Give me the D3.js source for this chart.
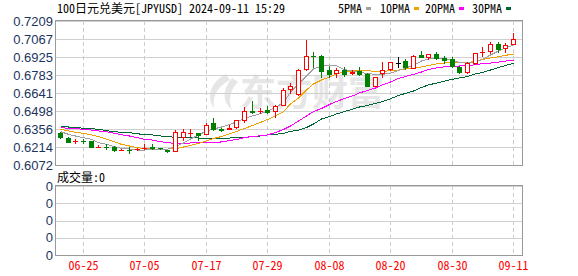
<!DOCTYPE html>
<html>
<head>
<meta charset="utf-8">
<script src="https://cdn.jsdelivr.net/npm/d3@7"></script>
<style>
  body { margin: 0; background: #fff; }
  svg { display: block; }
  .mono { font-family: 'Noto Sans Mono CJK SC', 'Noto Sans CJK SC', monospace; font-size: 12px; }
  .num { font-family: 'Liberation Sans', Arial, sans-serif; font-size: 13px; fill: #1c3560; }
  .datelab { font-family: 'Noto Sans Mono CJK SC', 'Noto Sans CJK SC', monospace; font-size: 12px; fill: #ff0000; }
</style>
</head>
<body>
<svg width="578" height="276"></svg>
<script>
// trading days shown (MM-DD, 2024)
var dates = ["06-20","06-21","06-24","06-25","06-26","06-27","06-28","07-01","07-02","07-03",
  "07-04","07-05","07-08","07-09","07-10","07-11","07-12","07-15","07-16","07-17",
  "07-18","07-19","07-22","07-23","07-24","07-25","07-26","07-29","07-30","07-31",
  "08-01","08-02","08-05","08-06","08-07","08-08","08-09","08-12","08-13","08-14",
  "08-15","08-16","08-19","08-20","08-21","08-22","08-23","08-26","08-27","08-28",
  "08-29","08-30","09-02","09-03","09-04","09-05","09-06","09-09","09-10","09-11"];

var open = [0.6327,0.6288,0.6259,0.6264,0.6259,0.6214,0.6217,0.6217,0.6188,0.6193,
  0.6196,0.6204,0.6212,0.6208,0.6189,0.6185,0.6293,0.6321,0.6322,0.6317,
  0.6401,0.6356,0.6359,0.6370,0.6427,0.6498,0.6498,0.6506,0.6496,0.6548,
  0.6674,0.6633,0.6828,0.6935,0.6933,0.6822,0.6796,0.6822,0.6802,0.6817,
  0.6793,0.6698,0.6796,0.6828,0.6881,0.6896,0.6840,0.6943,0.6922,0.6948,
  0.6917,0.6907,0.6843,0.6804,0.6875,0.6964,0.6972,0.7027,0.6993,0.7025];
var high = [0.6333,0.6291,0.6275,0.6277,0.6262,0.6232,0.6235,0.6220,0.6201,0.6212,
  0.6206,0.6238,0.6240,0.6210,0.6190,0.6348,0.6354,0.6354,0.6325,0.6406,
  0.6441,0.6364,0.6388,0.6427,0.6528,0.6577,0.6520,0.6538,0.6543,0.6682,
  0.6717,0.6828,0.7059,0.6967,0.6937,0.6854,0.6835,0.6843,0.6822,0.6848,
  0.6796,0.6769,0.6883,0.6885,0.6922,0.6907,0.6941,0.6970,0.6948,0.6964,
  0.6933,0.6922,0.6856,0.6888,0.6956,0.7001,0.7046,0.7046,0.7033,0.7112];
var low = [0.6289,0.6254,0.6243,0.6246,0.6214,0.6212,0.6201,0.6183,0.6187,0.6169,
  0.6190,0.6201,0.6201,0.6201,0.6177,0.6183,0.6269,0.6303,0.6269,0.6314,
  0.6348,0.6338,0.6356,0.6367,0.6414,0.6485,0.6485,0.6480,0.6449,0.6546,
  0.6638,0.6625,0.6825,0.6848,0.6769,0.6769,0.6769,0.6775,0.6790,0.6783,
  0.6693,0.6696,0.6769,0.6822,0.6843,0.6828,0.6835,0.6922,0.6907,0.6907,
  0.6880,0.6848,0.6801,0.6796,0.6872,0.6935,0.6954,0.6962,0.6967,0.7025];
var close = [0.6296,0.6256,0.6264,0.6259,0.6217,0.6218,0.6212,0.6190,0.6192,0.6188,
  0.6200,0.6208,0.6206,0.6204,0.6183,0.6335,0.6333,0.6325,0.6307,0.6390,
  0.6354,0.6352,0.6363,0.6425,0.6496,0.6493,0.6502,0.6488,0.6540,0.6662,
  0.6696,0.6820,0.6933,0.6930,0.6817,0.6793,0.6820,0.6793,0.6806,0.6793,
  0.6696,0.6767,0.6822,0.6883,0.6881,0.6843,0.6933,0.6927,0.6946,0.6917,
  0.6903,0.6856,0.6806,0.6875,0.6954,0.6968,0.7027,0.6988,0.7017,0.7069];

var ma5 = [0.6335,0.6314,0.6301,0.6288,0.6275,0.6248,0.6235,0.6217,0.6204,0.6198,
  0.6190,0.6190,0.6196,0.6196,0.6196,0.6217,0.6246,0.6277,0.6309,0.6341,
  0.6356,0.6372,0.6392,0.6412,0.6439,0.6459,0.6479,0.6498,0.6526,0.6566,
  0.6648,0.6712,0.6775,0.6830,0.6854,0.6862,0.6854,0.6826,0.6814,0.6802,
  0.6796,0.6787,0.6787,0.6798,0.6817,0.6838,0.6858,0.6893,0.6909,0.6913,
  0.6909,0.6897,0.6881,0.6877,0.6885,0.6905,0.6941,0.6972,0.6996,0.7020];
var ma10 = [0.6354,0.6341,0.6330,0.6322,0.6309,0.6296,0.6275,0.6256,0.6235,0.6222,
  0.6209,0.6201,0.6198,0.6198,0.6198,0.6201,0.6214,0.6226,0.6242,0.6262,
  0.6281,0.6297,0.6317,0.6337,0.6360,0.6384,0.6408,0.6431,0.6459,0.6494,
  0.6554,0.6601,0.6664,0.6712,0.6743,0.6767,0.6791,0.6806,0.6814,0.6817,
  0.6817,0.6810,0.6810,0.6817,0.6822,0.6830,0.6835,0.6846,0.6858,0.6870,
  0.6877,0.6880,0.6880,0.6880,0.6893,0.6905,0.6917,0.6927,0.6938,0.6948];
var ma20 = [0.6367,0.6362,0.6359,0.6354,0.6348,0.6341,0.6335,0.6322,0.6311,0.6301,
  0.6288,0.6275,0.6269,0.6256,0.6248,0.6243,0.6243,0.6246,0.6248,0.6248,
  0.6250,0.6254,0.6265,0.6273,0.6289,0.6297,0.6303,0.6309,0.6329,0.6352,
  0.6380,0.6419,0.6459,0.6494,0.6518,0.6550,0.6573,0.6597,0.6617,0.6641,
  0.6660,0.6680,0.6704,0.6727,0.6755,0.6771,0.6787,0.6806,0.6826,0.6838,
  0.6848,0.6851,0.6854,0.6856,0.6864,0.6872,0.6877,0.6885,0.6893,0.6901];
var ma30 = [0.6380,0.6372,0.6370,0.6362,0.6359,0.6354,0.6343,0.6335,0.6330,0.6327,
  0.6319,0.6311,0.6309,0.6301,0.6296,0.6291,0.6289,0.6288,0.6285,0.6285,
  0.6285,0.6285,0.6285,0.6288,0.6291,0.6296,0.6301,0.6309,0.6314,0.6322,
  0.6337,0.6348,0.6368,0.6396,0.6435,0.6455,0.6475,0.6494,0.6512,0.6530,
  0.6542,0.6558,0.6572,0.6595,0.6621,0.6637,0.6656,0.6684,0.6704,0.6719,
  0.6735,0.6749,0.6759,0.6771,0.6791,0.6802,0.6822,0.6842,0.6858,0.6875];

var priceTicks = [0.7209,0.7067,0.6925,0.6783,0.6641,0.6498,0.6356,0.6214,0.6072];
var dateTicks = ["06-25","07-05","07-17","07-29","08-08","08-20","08-30","09-11"];
var volTickLabels = ["0","0","0","0","0"];
var maNames = ["5PMA","10PMA","20PMA","30PMA"];
var maColors = ["#a0a0a0","#f0a000","#ff00ff","#006633"];

var svg = d3.select("svg");
var left = 56, right = 522;
var top1 = 21, bot1 = 165, top2 = 186, bot2 = 255;
var step = 7.68;

var x = d3.scaleBand().domain(dates).range([left, left + step * dates.length]).padding(0);
function cx(d) { return Math.round(x(d) + x.bandwidth() / 2); }
var y = d3.scaleLinear().domain([0.6072, 0.7209]).range([bot1, top1]);
var yv = d3.scaleLinear().domain([0, volTickLabels.length - 1]).range([bot2, top2]);

// watermark
var wm = svg.append("g").attr("fill", "#e6e6e6");
wm.append("path").attr("d", "M226,74 C210,82 206,98 214,108 C212,96 218,86 230,80 Z");
wm.append("path").attr("d", "M232,78 C222,90 222,102 232,110 C228,100 230,90 238,82 Z");
wm.append("text").attr("x", 240).attr("y", 106)
  .style("font-family", "'Noto Sans CJK SC'").style("font-weight", "bold")
  .style("font-size", "36px").text("东方财富");

// horizontal grid, main panel
svg.append("g").selectAll("line").data(priceTicks).enter().append("line")
  .attr("x1", left).attr("x2", right)
  .attr("y1", function (d) { return Math.round(y(d)) + 0.5; })
  .attr("y2", function (d) { return Math.round(y(d)) + 0.5; })
  .attr("stroke", "#d0d0d0");

// horizontal grid, volume panel
svg.append("g").selectAll("line").data(volTickLabels).enter().append("line")
  .attr("x1", left).attr("x2", right)
  .attr("y1", function (d, i) { return Math.round(yv(i)) + 0.5; })
  .attr("y2", function (d, i) { return Math.round(yv(i)) + 0.5; })
  .attr("stroke", "#d0d0d0");

// vertical dashed grid through both panels
[[top1, bot1], [top2, bot2]].forEach(function (r) {
  svg.append("g").selectAll("line").data(dateTicks).enter().append("line")
    .attr("x1", function (d) { return cx(d) + 0.5; })
    .attr("x2", function (d) { return cx(d) + 0.5; })
    .attr("y1", r[0]).attr("y2", r[1])
    .attr("stroke", "#cccccc").attr("stroke-dasharray", "4,3");
});

// moving averages
var line = d3.line()
  .x(function (d, i) { return cx(dates[i]) + 0.5; })
  .y(function (d) { return y(d); });
[ma30, ma20, ma10, ma5].forEach(function (s, k) {
  svg.append("path").datum(s).attr("d", line)
    .attr("fill", "none").attr("stroke", maColors[3 - k]).attr("stroke-width", 1)
    .style("shape-rendering", "crispEdges");
});

// candles
var candles = svg.append("g").selectAll("g").data(dates).enter().append("g");
candles.each(function (d, i) {
  var g = d3.select(this);
  var c = cx(d);
  var o = open[i], cl = close[i];
  var col = cl > o ? "#ff0000" : (cl < o ? "#008000" : "#000000");
  g.append("line")
    .attr("x1", c + 0.5).attr("x2", c + 0.5)
    .attr("y1", Math.round(y(high[i]))).attr("y2", Math.round(y(low[i])) + 1)
    .attr("stroke", col);
  var yt = Math.round(y(Math.max(o, cl))), yb = Math.round(y(Math.min(o, cl)));
  if (yb - yt < 1) {
    g.append("line").attr("x1", c - 2).attr("x2", c + 3)
      .attr("y1", yt + 0.5).attr("y2", yt + 0.5).attr("stroke", col);
  } else if (cl > o) {
    g.append("rect").attr("x", c - 1.5).attr("y", yt + 0.5)
      .attr("width", 4).attr("height", yb - yt)
      .attr("fill", "#fff").attr("stroke", col);
  } else {
    g.append("rect").attr("x", c - 2).attr("y", yt)
      .attr("width", 5).attr("height", yb - yt + 1)
      .attr("fill", col);
  }
});

// panel borders
[[top1, bot1], [top2, bot2]].forEach(function (r) {
  svg.append("rect").attr("x", left - 0.5).attr("y", r[0] - 0.5)
    .attr("width", right - left + 1).attr("height", r[1] - r[0] + 1)
    .attr("fill", "none").attr("stroke", "#999999");
});

// price labels
svg.append("g").selectAll("text").data(priceTicks).enter().append("text")
  .attr("class", "num").attr("text-anchor", "end")
  .attr("x", 53).attr("y", function (d) { return y(d); }).attr("dy", "0.36em")
  .text(function (d) { return d.toFixed(4); });

// volume labels
svg.append("g").selectAll("text").data(volTickLabels).enter().append("text")
  .attr("class", "num").attr("text-anchor", "end")
  .attr("x", 53).attr("y", function (d, i) { return yv(i); }).attr("dy", "0.36em")
  .text(function (d) { return d; });

// date labels (red)
svg.append("g").selectAll("text").data(dateTicks).enter().append("text")
  .attr("class", "datelab").attr("text-anchor", "middle")
  .attr("x", function (d) { return cx(d) + 0.5; }).attr("y", 270)
  .style("fill", "#ff0000")
  .text(function (d) { return d; });

// title and legend
svg.append("text").attr("class", "mono").attr("fill", "#000").attr("x", 57).attr("y", 13)
  .text("100日元兑美元[JPYUSD] 2024-09-11 15:29");
var legX = [338, 380, 425, 472];
maNames.forEach(function (n, i) {
  var t = svg.append("text").attr("class", "mono").attr("fill", "#000")
    .attr("x", legX[i]).attr("y", 13).text(n);
  var w = t.node().getComputedTextLength();
  svg.append("rect").attr("x", legX[i] + w + 4).attr("y", 7)
    .attr("width", 5).attr("height", 3).attr("fill", maColors[i]);
});

svg.append("text").attr("class", "mono").attr("fill", "#000").attr("x", 57).attr("y", 182).text("成交量:0");
</script>
</body>
</html>
